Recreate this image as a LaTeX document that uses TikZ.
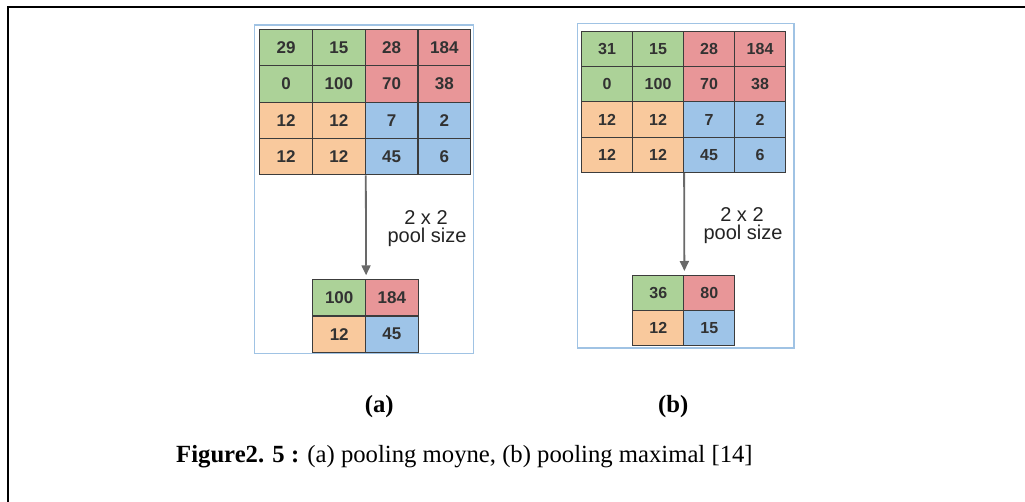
\documentclass[tikz,border=0pt]{standalone}
\usepackage{fontspec}
\setmainfont{Liberation Serif}
\newfontfamily\arialfont{Liberation Sans}
\usetikzlibrary{arrows.meta}

\definecolor{cg}{RGB}{172,210,152}
\definecolor{cr}{RGB}{232,150,152}
\definecolor{co}{RGB}{249,201,157}
\definecolor{cb}{RGB}{158,196,232}
\definecolor{gridline}{RGB}{60,60,60}
\definecolor{numtext}{RGB}{50,50,50}
\definecolor{labeltext}{RGB}{35,35,35}
\definecolor{panelline}{RGB}{160,195,228}
\definecolor{arrowgray}{RGB}{105,105,105}

\tikzset{
  cell/.style={draw=gridline, line width=1.1pt, inner sep=0pt, anchor=north west, text=numtext},
  panelframe/.style={draw=panelline, line width=1.3pt},
  poolarrow/.style={draw=arrowgray, line width=1.8pt, -{Triangle[length=10pt,width=9pt]}, shorten >=4pt},
  poollabel/.style={font=\arialfont\fontsize{20}{20}\selectfont, text=labeltext, anchor=base, inner sep=0pt},
  sublabel/.style={font=\bfseries\fontsize{24.7}{24.7}\selectfont, anchor=base, inner sep=0pt},
}

\begin{document}
\begin{tikzpicture}[x=1pt,y=-1pt]
\useasboundingbox (0,0) rectangle (1025,502);

% page frame
\draw[line width=1.7pt, black] (8,502) -- (8,7) -- (1025,7);

% ---------- (a) average pooling ----------
\draw[panelframe] (254.7,25) rectangle (473.3,353.3);
\foreach \row [count=\r from 0] in {{29/cg,15/cg,28/cr,184/cr},{0/cg,100/cg,70/cr,38/cr},{12/co,12/co,7/cb,2/cb},{12/co,12/co,45/cb,6/cb}} {
  \foreach \v/\col [count=\c from 0] in \row {
    \node[cell, fill=\col, minimum width=52.7pt, minimum height=36.35pt,
          font=\arialfont\bfseries\fontsize{17}{17}\selectfont]
      (a-\r-\c) at (259.3+\c*52.7, 29+\r*36.35) {\v};
  }
}
\foreach \row [count=\r from 0] in {{100/cg,184/cr},{12/co,45/cb}} {
  \foreach \v/\col [count=\c from 0] in \row {
    \node[cell, fill=\col, minimum width=52.7pt, minimum height=36.2pt,
          font=\arialfont\bfseries\fontsize{17}{17}\selectfont]
      (ao-\r-\c) at (312.3+\c*52.7, 279.3+\r*36.2) {\v};
  }
}
\draw[poolarrow] (a-3-1.south east) -- (ao-0-0.north east);
\node[poollabel] (a-size1) at (426,225) {2 x 2};
\node[poollabel] (a-size2) at (427,243) {pool size};

% ---------- (b) max pooling ----------
\draw[panelframe] (577.3,23.3) rectangle (794,348);
\foreach \row [count=\r from 0] in {{31/cg,15/cg,28/cr,184/cr},{0/cg,100/cg,70/cr,38/cr},{12/co,12/co,7/cb,2/cb},{12/co,12/co,45/cb,6/cb}} {
  \foreach \v/\col [count=\c from 0] in \row {
    \node[cell, fill=\col, minimum width=51pt, minimum height=35.3pt,
          font=\arialfont\bfseries\fontsize{16}{16}\selectfont]
      (b-\r-\c) at (581+\c*51, 30.7+\r*35.3) {\v};
  }
}
\foreach \row [count=\r from 0] in {{36/cg,80/cr},{12/co,15/cb}} {
  \foreach \v/\col [count=\c from 0] in \row {
    \node[cell, fill=\col, minimum width=51pt, minimum height=35pt,
          font=\arialfont\bfseries\fontsize{16}{16}\selectfont]
      (bo-\r-\c) at (632.3+\c*51, 275+\r*35) {\v};
  }
}
\draw[poolarrow] (b-3-1.south east) -- (bo-0-0.north east);
\node[poollabel] (b-size1) at (742,222) {2 x 2};
\node[poollabel] (b-size2) at (743,240) {pool size};

% ---------- sub-figure labels and caption ----------
\node[sublabel] (lbl-a) at (379.3,412.5) {(a)};
\node[sublabel] (lbl-b) at (673.3,412.5) {(b)};
\node[anchor=base west, inner sep=0pt, font=\fontsize{24.7}{24.7}\selectfont] (caption) at (176,462)
  {\textbf{Figure2. 5 :} (a) pooling moyne, (b) pooling maximal [14]};
\end{tikzpicture}
\end{document}
